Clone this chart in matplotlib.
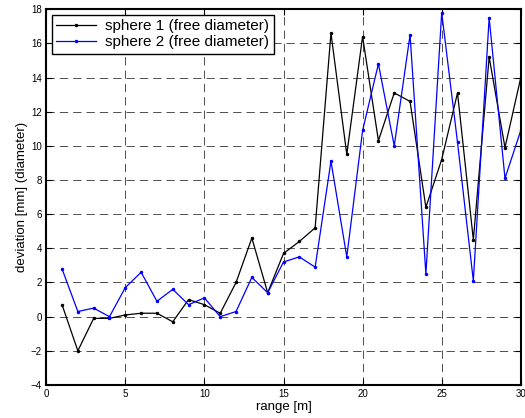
"""Deviation of sphere diameter vs range, two spheres"""
import matplotlib
matplotlib.use("Agg")
from matplotlib import pyplot as plt

plt.rcParams['font.family'] = ['Liberation Sans', 'DejaVu Sans']

range_m = list(range(1, 31))

sphere1 = [0.7, -2.0, -0.1, -0.1, 0.1, 0.2, 0.2, -0.3, 1.0, 0.7,
           0.2, 2.0, 4.6, 1.4, 3.7, 4.4, 5.2, 16.6, 9.5, 16.4,
           10.3, 13.1, 12.6, 6.4, 9.2, 13.1, 4.5, 15.2, 9.9, 14.0]

sphere2 = [2.8, 0.3, 0.5, 0.0, 1.7, 2.6, 0.9, 1.6, 0.7, 1.1,
           0.0, 0.3, 2.3, 1.4, 3.2, 3.5, 2.9, 9.1, 3.5, 10.9,
           14.8, 10.0, 16.5, 2.5, 17.8, 10.2, 2.1, 17.5, 8.1, 10.9]

xticks = [0, 5, 10, 15, 20, 25, 30]
yticks = list(range(-4, 19, 2))

fig = plt.figure(figsize=(5.25, 4.18), dpi=100)
ax = fig.add_axes([0.088, 0.079, 0.904, 0.899])

ax.plot(range_m, sphere1, color='black', lw=0.9, marker='.', ms=3,
        label='sphere 1 (free diameter)')
ax.plot(range_m, sphere2, color='blue', lw=0.9, marker='.', ms=3,
        label='sphere 2 (free diameter)')

ax.set_xlim(0, 30)
ax.set_ylim(-4, 18)
ax.set_xticks(xticks)
ax.set_yticks(yticks)
ax.grid(True, color='#333333', linestyle=(0, (10, 6)), linewidth=0.6)
ax.tick_params(direction='in', top=True, right=True, labelsize=7, length=4,
               pad=3)
for s in ax.spines.values():
    s.set_linewidth(1.5)

ax.set_xlabel('range [m]', fontsize=9.5, labelpad=1)
ax.set_ylabel('deviation [mm] (diameter)', fontsize=9.5, labelpad=2)

leg = ax.legend(loc='upper left', fontsize=11, fancybox=False, framealpha=1,
                edgecolor='black', borderaxespad=0.35, handlelength=2.6,
                borderpad=0.3, labelspacing=0.15, handletextpad=0.6)
leg.get_frame().set_linewidth(1.0)

fig.savefig('out.png', dpi=100)
